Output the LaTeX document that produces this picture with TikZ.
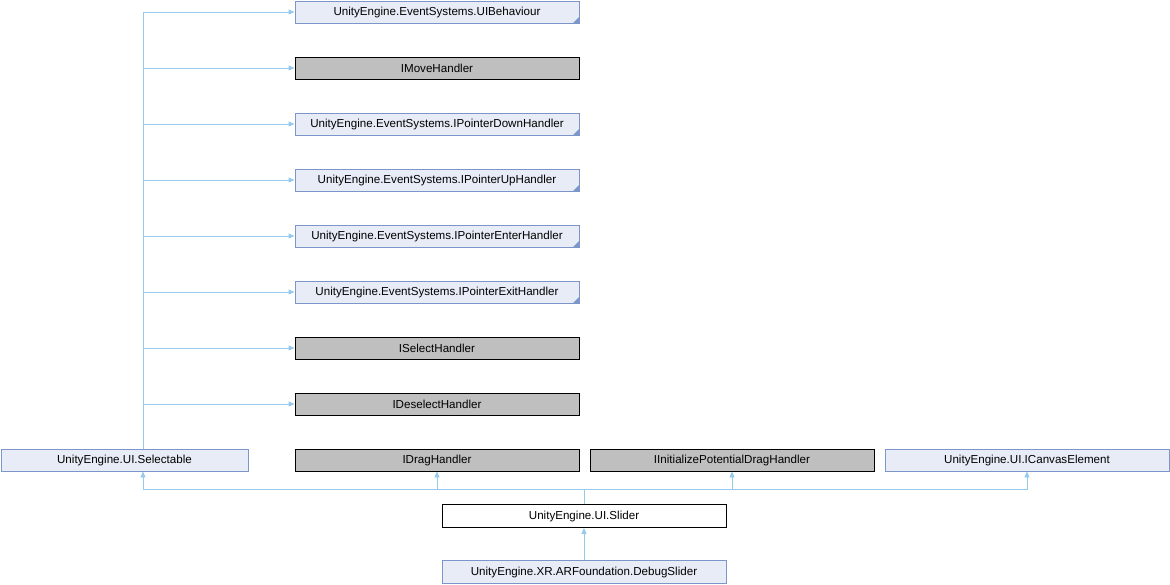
\documentclass[tikz,border=0pt]{standalone}
\usepackage{fontspec}
\setmainfont{Liberation Sans}
\usetikzlibrary{arrows.meta}
\definecolor{edgeblue}{RGB}{150,202,236}
\definecolor{boxfill}{RGB}{232,236,246}
\definecolor{boxline}{RGB}{124,149,202}
\definecolor{greyfill}{RGB}{191,191,191}

\tikzset{
  cls/.style={draw=boxline,fill=boxfill,line width=0.9pt,minimum width=284,minimum height=22,inner sep=0pt,
    font=\fontsize{11.6}{13}\selectfont},
  extcls/.style={cls,path picture={\fill[boxline] (path picture bounding box.south east) -- ++(-6pt,0pt) -- ++(6pt,6pt) -- cycle;}},
  iface/.style={cls,draw=black,fill=greyfill},
  main/.style={cls,draw=black,fill=white},
  inh/.style={draw=edgeblue,line width=0.9pt,-{Triangle[length=6pt,width=5pt]}},
}

\begin{document}
\begin{tikzpicture}[x=1pt,y=-1pt]
\useasboundingbox (0,0) rectangle (1170,584);
% bases in the left column
\node[extcls] (ub) at (437,12) {UnityEngine.EventSystems.UIBehaviour};
\node[iface] (mh) at (437,68) {IMoveHandler};
\node[extcls] (pd) at (437,124) {UnityEngine.EventSystems.IPointerDownHandler};
\node[extcls] (pu) at (437,180) {UnityEngine.EventSystems.IPointerUpHandler};
\node[extcls] (pe) at (437,236) {UnityEngine.EventSystems.IPointerEnterHandler};
\node[extcls] (px) at (437,292) {UnityEngine.EventSystems.IPointerExitHandler};
\node[iface] (sh) at (437,348) {ISelectHandler};
\node[iface] (dh) at (437,404) {IDeselectHandler};
% row of direct bases
\node[cls,minimum width=247] (sel) at (124.5,460) {UnityEngine.UI.Selectable};
\node[iface] (drag) at (437,460) {IDragHandler};
\node[iface] (ipd) at (732,460) {IInitializePotentialDragHandler};
\node[cls] (ice) at (1027,460) {UnityEngine.UI.ICanvasElement};
% derived classes
\node[main,minimum height=23] (sl) at (584,516) {UnityEngine.UI.Slider};
\node[cls,minimum height=23] (dbg) at (584,572) {UnityEngine.XR.ARFoundation.DebugSlider};

\coordinate (trunk) at (143,0);
\coordinate (bus) at (0,489);
\foreach \b in {ub,mh,pd,pu,pe,px,sh,dh}
  \draw[inh] (sel.north -| trunk) |- (\b.west);
\draw[inh] (sl.north) |- (bus -| trunk) -- (sel.south -| trunk);
\foreach \b in {drag,ipd,ice}
  \draw[inh] (sl.north) |- (bus -| \b) -- (\b.south);
\draw[inh] (dbg) -- (sl);
\end{tikzpicture}
\end{document}
